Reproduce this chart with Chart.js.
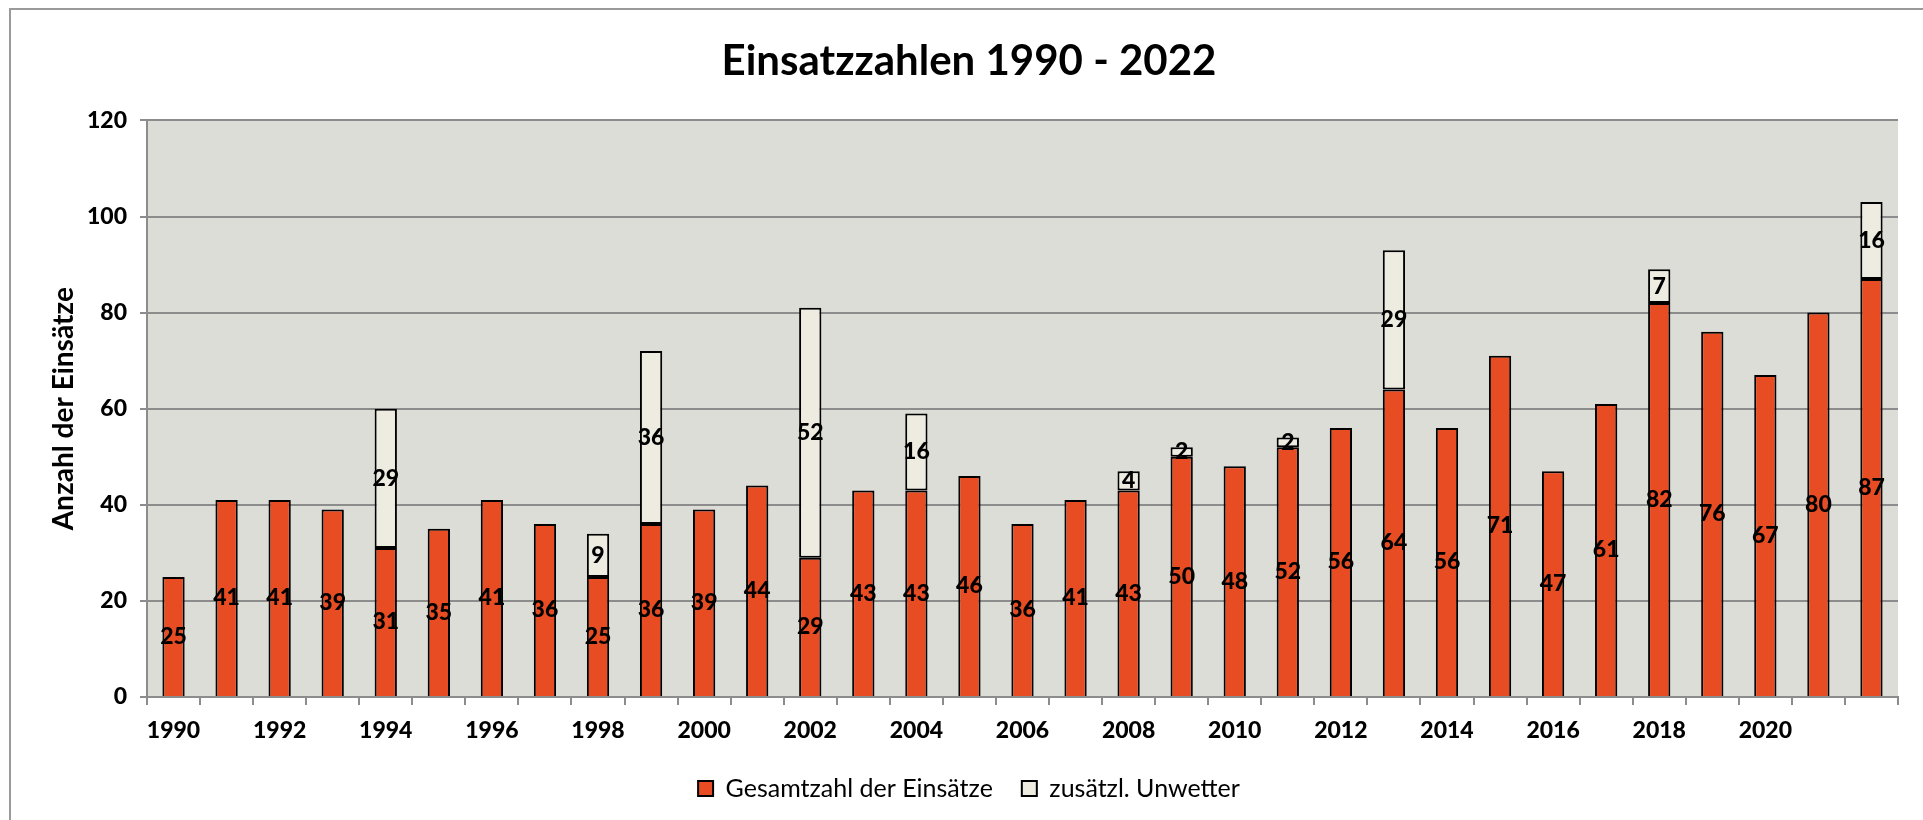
<!DOCTYPE html>
<html>
<head>
<meta charset="utf-8">
<script src="https://cdn.jsdelivr.net/npm/chart.js@4/dist/chart.umd.min.js"></script>
<style>
  html, body { margin: 0; padding: 0; background: #fff; }
  #wrap { position: relative; width: 1923px; height: 820px; overflow: hidden; }
  #frame { position: absolute; left: 9px; top: 8px; width: 2000px; height: 900px;
           border-top: 2px solid #9a9a9a; border-left: 2px solid #9a9a9a; }
  canvas { position: absolute; left: 0; top: 0; }
</style>
</head>
<body>
<div id="wrap">
  <div id="frame"></div>
  <canvas id="chart" width="1923" height="820"></canvas>
</div>
<script>
// Jahre 1990 - 2022
const years = ['1990','1991','1992','1993','1994','1995','1996','1997','1998','1999',
               '2000','2001','2002','2003','2004','2005','2006','2007','2008','2009',
               '2010','2011','2012','2013','2014','2015','2016','2017','2018','2019',
               '2020','2021','2022'];

// Gesamtzahl der Einsätze
const einsaetze = [25, 41, 41, 39, 31, 35, 41, 36, 25, 36,
                   39, 44, 29, 43, 43, 46, 36, 41, 43, 50,
                   48, 52, 56, 64, 56, 71, 47, 61, 82, 76,
                   67, 80, 87];

// zusätzl. Unwetter (null = keine)
const unwetter = [null, null, null, null, 29, null, null, null, 9, 36,
                  null, null, 52, null, 16, null, null, null, 4, 2,
                  null, 2, null, 29, null, null, null, null, 7, null,
                  null, null, 16];

const yTicks = [0, 20, 40, 60, 80, 100, 120];

const FONT = 'Lato, "Open Sans", sans-serif';
const GRID = '#8c8c8c';

// graue Zeichenfläche hinter den Balken
const plotBg = {
    id: 'plotBg',
    beforeDraw(chart) {
        const { ctx, chartArea: a } = chart;
        ctx.save();
        ctx.fillStyle = '#ddddd8';
        ctx.fillRect(a.left, a.top, a.right - a.left, a.bottom - a.top);
        ctx.restore();
    }
};

// Zahlen mittig in jedes Balkensegment
const barLabels = {
    id: 'barLabels',
    afterDatasetsDraw(chart) {
        const ctx = chart.ctx;
        ctx.save();
        ctx.font = '900 23px ' + FONT;
        ctx.fillStyle = '#000';
        ctx.textAlign = 'center';
        ctx.textBaseline = 'middle';
        chart.data.datasets.forEach((ds, i) => {
            chart.getDatasetMeta(i).data.forEach((bar, j) => {
                const v = ds.data[j];
                if (v == null) return;
                ctx.fillText(String(v), bar.x, (bar.y + bar.base) / 2);
            });
        });
        ctx.restore();
    }
};

new Chart(document.getElementById('chart'), {
    type: 'bar',
    data: {
        labels: years,
        datasets: [{
            label: 'Gesamtzahl der Einsätze',
            data: einsaetze,
            backgroundColor: '#e84c22',
            borderColor: '#000',
            borderWidth: 2,
            borderSkipped: 'bottom'
        }, {
            label: 'zusätzl. Unwetter',
            data: unwetter,
            backgroundColor: '#eeece1',
            borderColor: '#000',
            borderWidth: 2,
            borderSkipped: false
        }]
    },
    options: {
        responsive: false,
        animation: false,
        layout: { padding: { left: 40, right: 25, top: 0, bottom: 9 } },
        datasets: {
            bar: { categoryPercentage: 1, barPercentage: 0.42 }
        },
        scales: {
            x: {
                stacked: true,
                grid: { offset: true, drawOnChartArea: false, drawTicks: true,
                        tickLength: 8, color: GRID, lineWidth: 2 },
                border: { color: GRID, width: 2 },
                ticks: {
                    autoSkip: false, maxRotation: 0, padding: 12,
                    color: '#000', font: { family: FONT, size: 23, weight: 900 },
                    callback: (v, i) => (i % 2 === 0 && i < years.length - 1) ? years[i] : ''
                },
                afterFit: s => { s.height = 50; }
            },
            y: {
                stacked: true,
                min: yTicks[0], max: yTicks[yTicks.length - 1],
                afterBuildTicks: s => { s.ticks = yTicks.map(v => ({ value: v })); },
                grid: { color: GRID, lineWidth: 2, tickLength: 7 },
                border: { color: GRID, width: 2 },
                ticks: { padding: 13, color: '#000', font: { family: FONT, size: 23, weight: 900 } },
                title: {
                    display: true, text: 'Anzahl der Einsätze', color: '#000',
                    font: { family: FONT, size: 28, weight: 'bold' },
                    padding: { top: 7, bottom: 0 }
                },
                afterFit: s => { s.width = 107; }
            }
        },
        plugins: {
            title: {
                display: true, text: 'Einsatzzahlen 1990 - 2022', color: '#000',
                font: { family: FONT, size: 42, weight: 'bold' },
                padding: { top: 36, bottom: 34 }
            },
            legend: {
                position: 'bottom',
                labels: {
                    color: '#000', boxWidth: 15, boxHeight: 15, padding: 29,
                    font: { family: FONT, size: 25 }
                }
            },
            tooltip: { enabled: false }
        }
    },
    plugins: [plotBg, barLabels]
});
</script>
</body>
</html>
